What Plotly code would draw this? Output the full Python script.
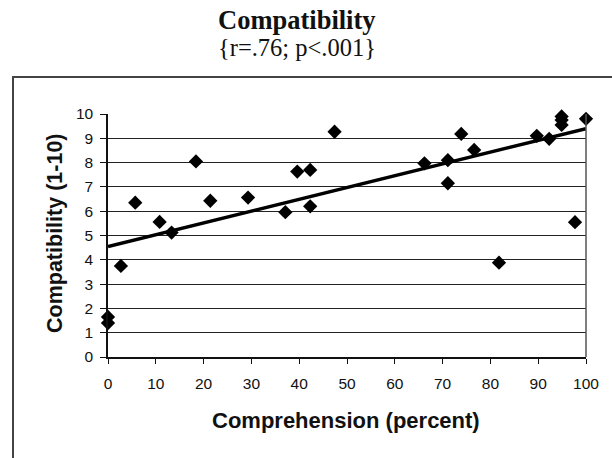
import plotly.graph_objects as go

comprehension = [0, 0, 2.7, 5.7, 10.8, 13.3, 18.4, 21.4, 29.3, 37.1, 39.6, 42.3, 42.3, 47.4,
                 66.2, 71.1, 71.1, 73.9, 76.6, 81.8, 89.7, 92.3, 94.9, 94.9, 94.9, 97.7, 100]
compatibility = [1.65, 1.4, 3.75, 6.35, 5.56, 5.12, 8.05, 6.43, 6.56, 5.96, 7.63, 7.7, 6.2, 9.27,
                 7.97, 8.1, 7.15, 9.18, 8.52, 3.88, 9.1, 8.98, 9.9, 9.75, 9.55, 5.55, 9.8]
trend_x = [0, 100]
trend_y = [4.55, 9.4]
x_ticks = list(range(0, 101, 10))
y_ticks = list(range(0, 11))

W, H = 612, 458
L, R, T, B = 108, 586, 114, 357
pw, ph = R - L, B - T

def px(xp):
    return (xp - L) / pw

def py(yp):
    return (B - yp) / ph

fig = go.Figure()
fig.add_trace(go.Scatter(x=trend_x, y=trend_y, mode="lines",
                         line=dict(color="black", width=3.5), cliponaxis=False,
                         hoverinfo="skip", showlegend=False))
fig.add_trace(go.Scatter(x=comprehension, y=compatibility, mode="markers",
                         marker=dict(symbol="diamond", size=11, color="black",
                                     line=dict(width=0)),
                         cliponaxis=False, showlegend=False))

tickfont = dict(family="Liberation Sans, Arial", size=15.5, color="#111")
fig.update_xaxes(range=[0, 100], tickvals=x_ticks, ticktext=[str(v) for v in x_ticks],
                 showgrid=False, zeroline=False, showline=True, linecolor="#111", linewidth=1.5,
                 ticks="outside", ticklen=5, tickcolor="#111", tickwidth=1.2,
                 tickfont=tickfont, ticklabelstandoff=7)
fig.update_yaxes(range=[0, 10], tickvals=y_ticks, ticktext=[str(v) for v in y_ticks],
                 showgrid=True, gridcolor="#222", gridwidth=1.2, zeroline=False,
                 showline=True, linecolor="#111", linewidth=1.5,
                 ticks="outside", ticklen=6, tickcolor="#111", tickwidth=1.2,
                 tickfont=tickfont, ticklabelstandoff=4)

# right edge of plot area
fig.add_shape(type="line", xref="paper", yref="paper", x0=1, x1=1, y0=0, y1=1,
              line=dict(color="#555", width=1.5))
# outer chart border
fig.add_shape(type="rect", xref="paper", yref="paper",
              x0=px(13), x1=px(660), y0=py(500), y1=py(77),
              line=dict(color="#444", width=2))

fig.add_annotation(text="<b>Compatibility</b>", xref="paper", yref="paper",
                   x=px(297), y=py(20), showarrow=False, xanchor="center", yanchor="middle",
                   font=dict(family="Liberation Serif, Times New Roman", size=26.5, color="#111"))
fig.add_annotation(text="{r=.76; p<.001}", xref="paper", yref="paper",
                   x=px(297), y=py(48), showarrow=False, xanchor="center", yanchor="middle",
                   font=dict(family="Liberation Serif, Times New Roman", size=24.5, color="#111"))
fig.add_annotation(text="<b>Comprehension (percent)</b>", xref="paper", yref="paper",
                   x=px(345.5), y=py(420), showarrow=False, xanchor="center", yanchor="middle",
                   font=dict(family="Liberation Sans, Arial", size=22, color="#111"))
fig.add_annotation(text="<b>Compatibility (1-10)</b>", xref="paper", yref="paper",
                   x=px(55), y=py(233), showarrow=False, xanchor="center", yanchor="middle",
                   textangle=-90,
                   font=dict(family="Liberation Sans, Arial", size=21.5, color="#111"))

fig.update_layout(width=W, height=H, margin=dict(l=L, r=W - R, t=T, b=H - B),
                  paper_bgcolor="white", plot_bgcolor="white", showlegend=False)
fig.write_html("out.html", config={"displayModeBar": False},
               post_script="document.body.style.margin='0';")
